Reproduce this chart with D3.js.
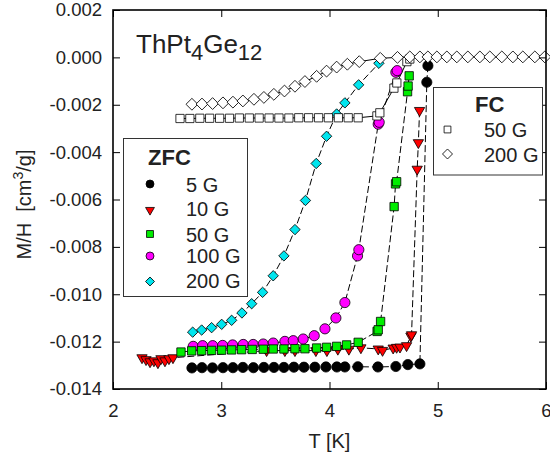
<!DOCTYPE html>
<html>
<head>
<meta charset="utf-8">
<script src="https://cdn.jsdelivr.net/npm/d3@7"></script>
<style>
  body { margin: 0; background: #fff; }
  svg { display: block; }
  text { font-family: "Liberation Sans", Arial, sans-serif; fill: #222; white-space: pre; }
</style>
</head>
<body>
<svg id="chart" width="550" height="459"></svg>
<script>
// Axis ticks
const xTicks = [2, 3, 4, 5, 6];
const yTicks = [0.002, 0.000, -0.002, -0.004, -0.006, -0.008, -0.010, -0.012, -0.014];
const yTickLabels = ["0.002", "0.000", "-0.002", "-0.004", "-0.006", "-0.008", "-0.010", "-0.012", "-0.014"];

// ZFC, 5 G
const zfc5T = [2.729, 2.822, 2.919, 3.016, 3.108, 3.200, 3.297, 3.394, 3.487, 3.579, 3.671, 3.764, 3.865, 3.967, 4.068, 4.142, 4.262, 4.447, 4.613, 4.724, 4.835, 4.899, 4.909];
const zfc5M = [-0.01311, -0.01310, -0.01311, -0.01310, -0.01310, -0.01309, -0.01310, -0.01309, -0.01309, -0.01309, -0.01308, -0.01308, -0.01308, -0.01307, -0.01307, -0.01307, -0.01306, -0.01307, -0.01305, -0.01297, -0.01294, -0.00105, -0.00035];

// ZFC, 10 G
const zfc10T = [2.268, 2.305, 2.342, 2.378, 2.415, 2.443, 2.480, 2.517, 2.554, 3.419, 3.588, 3.681, 3.874, 3.976, 4.077, 4.179, 4.290, 4.450, 4.490, 4.588, 4.620, 4.651, 4.712, 4.752, 4.758, 4.810, 4.821, 4.832];
const zfc10M = [-0.01268, -0.01276, -0.01285, -0.01281, -0.01289, -0.01272, -0.01281, -0.01272, -0.01268, -0.01238, -0.01238, -0.01238, -0.01238, -0.01238, -0.01232, -0.01232, -0.01226, -0.01231, -0.01237, -0.01227, -0.01224, -0.01223, -0.01217, -0.01177, -0.01171, -0.00472, -0.00360, -0.00224];

// ZFC, 50 G
const zfc50T = [2.628, 2.727, 2.819, 2.911, 3.004, 3.096, 3.188, 3.286, 3.388, 3.480, 3.579, 3.681, 3.773, 3.881, 3.973, 4.066, 4.158, 4.265, 4.440, 4.450, 4.472, 4.597, 4.610, 4.620, 4.721, 4.726, 4.736];
const zfc50M = [-0.01244, -0.01239, -0.01238, -0.01237, -0.01236, -0.01235, -0.01234, -0.01233, -0.01232, -0.01231, -0.01231, -0.01230, -0.01230, -0.01227, -0.01224, -0.01220, -0.01214, -0.01203, -0.01157, -0.01150, -0.01115, -0.00630, -0.00534, -0.00525, -0.00145, -0.00121, -0.00078];

// ZFC, 100 G
const zfc100T = [2.741, 2.828, 2.921, 3.013, 3.105, 3.203, 3.295, 3.388, 3.480, 3.588, 3.665, 3.757, 3.859, 3.958, 4.059, 4.142, 4.259, 4.271, 4.450, 4.459, 4.613, 4.625];
const zfc100M = [-0.01220, -0.01217, -0.01217, -0.01216, -0.01214, -0.01212, -0.01212, -0.01210, -0.01206, -0.01199, -0.01196, -0.01189, -0.01175, -0.01146, -0.01100, -0.01035, -0.00838, -0.00812, -0.00282, -0.00274, -0.00063, -0.00056];

// ZFC, 200 G
const zfc200T = [2.736, 2.819, 2.911, 3.004, 3.096, 3.191, 3.281, 3.382, 3.480, 3.579, 3.681, 3.778, 3.877, 3.973, 4.066, 4.142, 4.269, 4.456];
const zfc200M = [-0.01160, -0.01151, -0.01141, -0.01127, -0.01110, -0.01079, -0.01040, -0.00992, -0.00922, -0.00838, -0.00727, -0.00604, -0.00448, -0.00333, -0.00239, -0.00192, -0.00116, -0.00025];

// FC, 50 G
const fc50T = [2.619, 2.710, 2.802, 2.893, 2.985, 3.076, 3.167, 3.259, 3.350, 3.442, 3.533, 3.625, 3.716, 3.807, 3.899, 3.990, 4.082, 4.173, 4.265, 4.438, 4.465, 4.595, 4.622, 4.715, 4.742];
const fc50M = [-0.00258, -0.00258, -0.00257, -0.00257, -0.00257, -0.00257, -0.00256, -0.00256, -0.00256, -0.00256, -0.00256, -0.00256, -0.00255, -0.00255, -0.00255, -0.00255, -0.00255, -0.00255, -0.00255, -0.00247, -0.00234, -0.00130, -0.00108, -0.00018, -0.00007];

// FC, 200 G
const fc200T = [2.729, 2.822, 2.920, 3.016, 3.108, 3.200, 3.302, 3.394, 3.486, 3.584, 3.681, 3.773, 3.881, 3.973, 4.066, 4.165, 4.275, 4.469, 4.628, 4.742, 4.835, 4.909, 4.992, 5.084, 5.176, 5.278, 5.389, 5.481, 5.592, 5.694, 5.786, 5.897, 5.989];
const fc200M = [-0.00198, -0.00197, -0.00195, -0.00192, -0.00189, -0.00184, -0.00177, -0.00169, -0.00156, -0.00142, -0.00122, -0.00102, -0.00080, -0.00058, -0.00041, -0.00029, -0.00018, -0.00004, 0.00000, 0.00002, 0.00002, 0.00002, 0.00002, 0.00002, 0.00002, 0.00002, 0.00002, 0.00002, 0.00002, 0.00002, 0.00002, 0.00002, 0.00002];

const svg = d3.select("#chart");
const frame = { left: 113, right: 546, top: 10, bottom: 389 };

const x = d3.scaleLinear().domain([2, 6]).range([frame.left, frame.right]);
const y = d3.scaleLinear().domain([0.002, -0.014]).range([frame.top, frame.bottom]);

const zip = (ts, ms) => ts.map((t, i) => ({ t, m: ms[i] }));

// marker shapes
const shapes = {
  circle: d3.symbol().type(d3.symbolCircle).size(Math.PI * 26)(),
  triangle: d3.symbol().type(d3.symbolTriangle).size(46)(),
  square: d3.symbol().type(d3.symbolSquare).size(70)(),
  diamond: d3.symbol().type(d3.symbolSquare).size(54)(),
  fcSquare: d3.symbol().type(d3.symbolSquare).size(68)(),
  fcDiamond: d3.symbol().type(d3.symbolSquare).size(70)()
};
const rot = { circle: 0, triangle: 180, square: 0, diamond: 45, fcSquare: 0, fcDiamond: 45 };

const series = [
  { name: "zfc5", data: zip(zfc5T, zfc5M), shape: "circle", fill: "#000000", dash: "7,3" },
  { name: "zfc100", data: zip(zfc100T, zfc100M), shape: "circle", fill: "#ff00ff", dash: "7,3" },
  { name: "zfc10", data: zip(zfc10T, zfc10M), shape: "triangle", fill: "#ff0000", dash: "7,3" },
  { name: "zfc50", data: zip(zfc50T, zfc50M), shape: "square", fill: "#00ee00", dash: "7,3" },
  { name: "zfc200", data: zip(zfc200T, zfc200M), shape: "diamond", fill: "#00e5ee", dash: "7,3" },
  { name: "fc50", data: zip(fc50T, fc50M), shape: "fcSquare", fill: "#ffffff", dash: null },
  { name: "fc200", data: zip(fc200T, fc200M), shape: "fcDiamond", fill: "#ffffff", dash: null }
];

const line = d3.line().x(d => x(d.t)).y(d => y(d.m));

// connecting lines
const lineLayer = svg.append("g");
series.forEach(s => {
  lineLayer.append("path")
    .attr("d", line(s.data))
    .attr("fill", "none")
    .attr("stroke", "#000")
    .attr("stroke-width", 1)
    .attr("stroke-dasharray", s.dash);
});

// markers
series.forEach(s => {
  svg.append("g").selectAll("path")
    .data(s.data)
    .join("path")
    .attr("d", shapes[s.shape])
    .attr("transform", d => `translate(${x(d.t)},${y(d.m)}) rotate(${rot[s.shape]})`)
    .attr("fill", s.fill)
    .attr("stroke", "#000")
    .attr("stroke-width", 0.8);
});

// axes with inward ticks
const fmtY = d => yTickLabels[yTicks.indexOf(d)];
const axBottom = svg.append("g").attr("transform", `translate(0,${frame.bottom})`)
  .call(d3.axisBottom(x).tickValues(xTicks).tickSize(-7).tickPadding(15).tickFormat(d3.format("d")));
const axLeft = svg.append("g").attr("transform", `translate(${frame.left},0)`)
  .call(d3.axisLeft(y).tickValues(yTicks).tickSize(-7).tickPadding(11).tickFormat(fmtY));
const axTop = svg.append("g").attr("transform", `translate(0,${frame.top})`)
  .call(d3.axisTop(x).tickValues(xTicks).tickSize(-7).tickFormat(""));
const axRight = svg.append("g").attr("transform", `translate(${frame.right},0)`)
  .call(d3.axisRight(y).tickValues(yTicks).tickSize(-7).tickFormat(""));

[axBottom, axLeft, axTop, axRight].forEach(g => {
  g.select(".domain").remove();
  g.selectAll(".tick line").attr("stroke", "#000").attr("stroke-width", 1);
  g.selectAll(".tick text")
    .attr("font-family", "'Liberation Sans', Arial, sans-serif")
    .attr("font-size", 18.5)
    .attr("fill", "#222");
});

// frame
svg.append("rect")
  .attr("x", frame.left).attr("y", frame.top)
  .attr("width", frame.right - frame.left).attr("height", frame.bottom - frame.top)
  .attr("fill", "none").attr("stroke", "#000").attr("stroke-width", 1.6);

// axis titles
svg.append("text")
  .attr("x", (frame.left + frame.right) / 2).attr("y", 448)
  .attr("text-anchor", "middle").attr("font-size", 20)
  .text("T [K]");

const yt = svg.append("text")
  .attr("transform", `translate(31,${(frame.top + frame.bottom) / 2 + 5}) rotate(-90)`)
  .attr("text-anchor", "middle").attr("font-size", 20);
yt.append("tspan").text("M/H  [cm");
yt.append("tspan").attr("font-size", 14).attr("dy", -8).text("3");
yt.append("tspan").attr("dy", 8).text("/g]");

// compound name
const title = svg.append("text").attr("x", 136).attr("y", 53).attr("font-size", 26);
title.append("tspan").text("ThPt");
title.append("tspan").attr("font-size", 22).attr("dy", 7).text("4");
title.append("tspan").attr("dy", -7).text("Ge");
title.append("tspan").attr("font-size", 22).attr("dy", 7).text("12");

// ZFC legend
const zfcLegend = [
  { label: "5 G", shape: "circle", fill: "#000000", y: 184, ty: 192 },
  { label: "10 G", shape: "triangle", fill: "#ff0000", y: 210, ty: 216 },
  { label: "50 G", shape: "square", fill: "#00ee00", y: 234, ty: 241.5 },
  { label: "100 G", shape: "circle", fill: "#ff00ff", y: 256, ty: 262.5 },
  { label: "200 G", shape: "diamond", fill: "#00e5ee", y: 281.5, ty: 287.5 }
];
const lg1 = svg.append("g");
lg1.append("rect").attr("x", 123.5).attr("y", 138.5).attr("width", 124).attr("height", 158)
  .attr("fill", "#fff").attr("stroke", "#333").attr("stroke-width", 1);
lg1.append("text").attr("x", 148).attr("y", 165).attr("font-size", 22).attr("font-weight", "bold").text("ZFC");
zfcLegend.forEach(d => {
  lg1.append("path")
    .attr("d", d3.symbol().type(d.shape === "circle" ? d3.symbolCircle : d.shape === "triangle" ? d3.symbolTriangle : d3.symbolSquare)
      .size(d.shape === "circle" ? 50 : d.shape === "triangle" ? 34 : d.shape === "square" ? 48 : 40)())
    .attr("transform", `translate(150,${d.y}) rotate(${rot[d.shape]})`)
    .attr("fill", d.fill).attr("stroke", "#000").attr("stroke-width", 0.8);
  lg1.append("text").attr("x", 186).attr("y", d.ty).attr("font-size", 20).text(d.label);
});

// FC legend
const fcLegend = [
  { label: "50 G", shape: "fcSquare", y: 129.5, ty: 137 },
  { label: "200 G", shape: "fcDiamond", y: 154, ty: 161.5 }
];
const lg2 = svg.append("g");
lg2.append("rect").attr("x", 433.5).attr("y", 87.5).attr("width", 109).attr("height", 87.5)
  .attr("fill", "#fff").attr("stroke", "#333").attr("stroke-width", 1);
lg2.append("text").attr("x", 475).attr("y", 111.5).attr("font-size", 22).attr("font-weight", "bold").text("FC");
fcLegend.forEach(d => {
  lg2.append("path")
    .attr("d", d3.symbol().type(d3.symbolSquare).size(d.shape === "fcSquare" ? 46 : 50)())
    .attr("transform", `translate(447.5,${d.y}) rotate(${rot[d.shape]})`)
    .attr("fill", "#fff").attr("stroke", "#000").attr("stroke-width", 0.8);
  lg2.append("text").attr("x", 484).attr("y", d.ty).attr("font-size", 20).text(d.label);
});
</script>
</body>
</html>
